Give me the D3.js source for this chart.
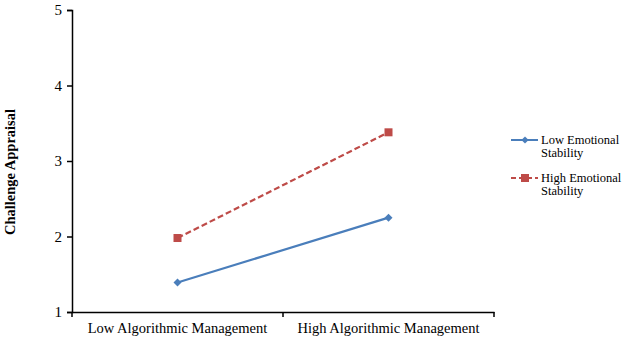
<!DOCTYPE html>
<html><head><meta charset="utf-8">
<script src="https://cdn.jsdelivr.net/npm/d3@7"></script>
<style>body{margin:0;background:#fff}svg{display:block}</style>
</head><body>
<script>
const categories = ["Low Algorithmic Management", "High Algorithmic Management"];
const seriesNames = ["Low Emotional Stability", "High Emotional Stability"];
const lowES = [1.39, 2.25];
const highES = [1.98, 3.38];
const yTicks = [1, 2, 3, 4, 5];
const yLabel = "Challenge Appraisal";

const W = 624, H = 341;
const svg = d3.select("body").append("svg").attr("width", W).attr("height", H)
  .style("font-family", "'Liberation Serif','Times New Roman',serif");

const x = d3.scaleBand().domain(categories).range([72, 494]);
const y = d3.scaleLinear().domain([1, 5]).range([312, 10]);

// y axis
const yAxis = svg.append("g").attr("transform", "translate(72,0)")
  .call(d3.axisLeft(y).tickValues(yTicks).tickFormat(d3.format("d")).tickSize(5).tickPadding(5));
yAxis.select(".domain").attr("stroke", "#000").attr("stroke-width", 1.5);
yAxis.selectAll(".tick line").attr("stroke", "#000").attr("stroke-width", 1.5);
yAxis.selectAll("text").attr("font-size", 15).attr("fill", "#000")
  .attr("font-family", "'Liberation Serif',serif");

// x axis
const xAxis = svg.append("g").attr("transform", "translate(0,312)")
  .call(d3.axisBottom(x).tickSize(0).tickSizeOuter(0).tickPadding(11));
xAxis.select(".domain").attr("stroke", "#000").attr("stroke-width", 1.5);
xAxis.selectAll("text").attr("font-size", 14.5).attr("fill", "#000")
  .attr("font-family", "'Liberation Serif',serif");
// tick marks at band boundaries
const bounds = [x.range()[0]].concat(categories.map(c => x(c) + x.bandwidth()));
xAxis.selectAll("line.bnd").data(bounds).enter().append("line").attr("class", "bnd")
  .attr("x1", d => d).attr("x2", d => d).attr("y1", 0).attr("y2", 5)
  .attr("stroke", "#000").attr("stroke-width", 1.5);

// y label
svg.append("text").attr("transform", "translate(15,172) rotate(-90)")
  .attr("text-anchor", "middle").attr("font-size", 14.5).attr("font-weight", "bold")
  .text(yLabel);

const cx = c => x(c) + x.bandwidth() / 2;
const line = d3.line().x((d, i) => cx(categories[i])).y(d => y(d));

const blue = "#4A7EBB", red = "#BE4B48";

svg.append("path").datum(highES).attr("d", line).attr("fill", "none")
  .attr("stroke", red).attr("stroke-width", 2.2).attr("stroke-dasharray", "6,3");
svg.append("path").datum(lowES).attr("d", line).attr("fill", "none")
  .attr("stroke", blue).attr("stroke-width", 2.2);

svg.selectAll("path.dm").data(lowES).enter().append("path").attr("class", "dm")
  .attr("d", d3.symbol().type(d3.symbolSquare).size(32))
  .attr("transform", (d, i) => `translate(${cx(categories[i])},${y(d)}) rotate(45)`)
  .attr("fill", blue);
svg.selectAll("rect.sq").data(highES).enter().append("rect").attr("class", "sq")
  .attr("x", (d, i) => cx(categories[i]) - 4).attr("y", d => y(d) - 4)
  .attr("width", 8).attr("height", 8).attr("fill", red);

// legend
const lg = svg.append("g");
const items = [
  {color: blue, dash: null, y: 140, base: 144, lines: ["Low Emotional", "Stability"]},
  {color: red, dash: "5,3", y: 178, base: 182, lines: ["High Emotional", "Stability"]}
];
items.forEach((it, k) => {
  lg.append("line").attr("x1", 511).attr("x2", 538).attr("y1", it.y).attr("y2", it.y)
    .attr("stroke", it.color).attr("stroke-width", 2).attr("stroke-dasharray", it.dash);
  if (k === 0) {
    lg.append("path").attr("d", d3.symbol().type(d3.symbolSquare).size(26))
      .attr("transform", `translate(525,${it.y}) rotate(45)`).attr("fill", it.color);
  } else {
    lg.append("rect").attr("x", 521).attr("y", it.y - 4).attr("width", 8).attr("height", 8).attr("fill", it.color);
  }
  it.lines.forEach((l, j) => lg.append("text").attr("x", 541).attr("y", it.base + j * 13)
    .attr("font-size", 12.5).attr("fill", "#000").text(l));
});
</script>
</body></html>
